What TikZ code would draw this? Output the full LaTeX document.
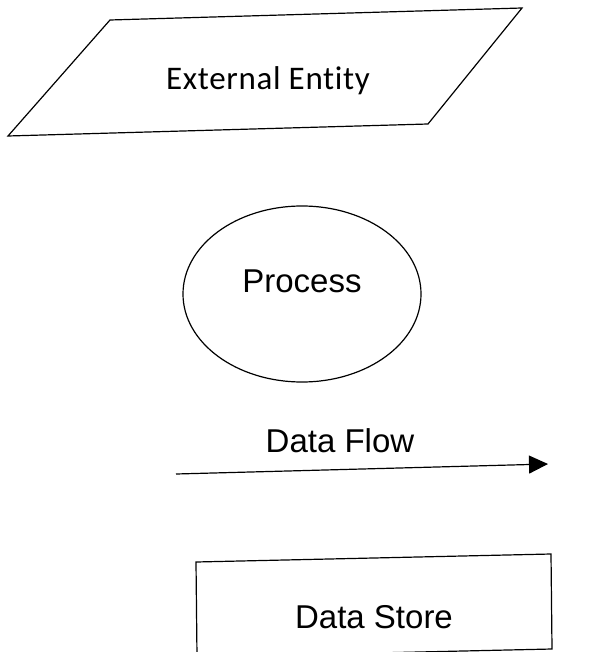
\documentclass[tikz,border=0pt]{standalone}
\usepackage{fontspec}
\setmainfont{Liberation Sans}
\newfontfamily\entityfont[Ligatures=NoCommon,LetterSpace=2]{Carlito}
\usetikzlibrary{arrows.meta}

\tikzset{
  shapetext/.style={anchor=base,inner sep=0pt,font=\fontsize{16.5}{19}\selectfont},
  entitytext/.style={anchor=base,inner sep=0pt,font=\entityfont\fontsize{16.5}{19}\selectfont},
  flowline/.style={-{Triangle[length=9.5pt,width=9pt]}}
}

\begin{document}
\begin{tikzpicture}[x=0.5pt,y=-0.5pt,line width=0.6pt]
\useasboundingbox (0,0) rectangle (589,652);
\clip (0,0) rectangle (589,652);
% external entity
\draw (110,20)--(522,8)--(428,124)--(8,136)--cycle;
\node[entitytext] (entity) at (268,90) {External Entity};
% process
\draw (302,294) ellipse [x radius=119,y radius=88];
\node[shapetext] (process) at (302,292) {Process};
% data flow
\coordinate (flowstart) at (176,474);
\coordinate (flowend) at (548,464);
\draw[flowline] (flowstart) -- (flowend);
\node[shapetext] (flow) at (340,452) {Data Flow};
% data store
\draw (196,562)--(551,554)--(552,649)--(197,657)--cycle;
\node[shapetext] (store) at (374,628) {Data Store};
\end{tikzpicture}
\end{document}
